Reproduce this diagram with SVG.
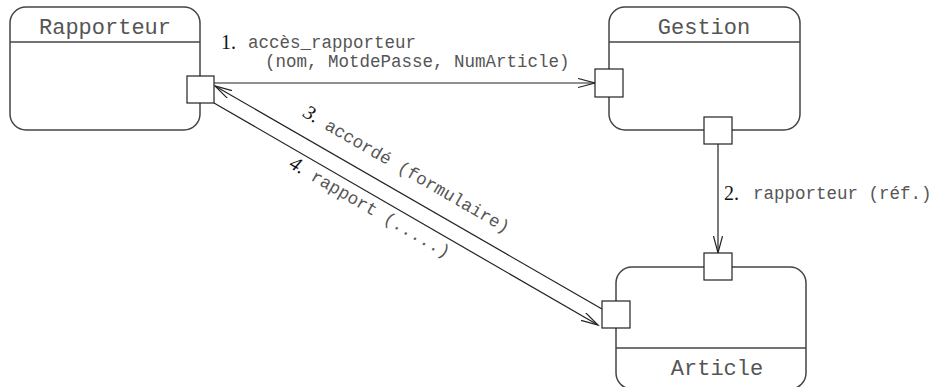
<svg xmlns="http://www.w3.org/2000/svg" width="935" height="387" viewBox="0 0 935 387">
<defs>
<style>
.box{fill:#fff;stroke:#444;stroke-width:1.5}
.div{stroke:#444;stroke-width:1.5}
.port{fill:#fff;stroke:#222;stroke-width:1.2}
.conn{stroke:#222;stroke-width:1.2;fill:none}
.title{font-family:"Liberation Mono",monospace;font-size:22px;fill:#555;text-anchor:middle}
.mono{font-family:"Liberation Mono",monospace;font-size:17.5px;fill:#555}
.num{font-family:"Liberation Serif",serif;font-size:20px;fill:#111}
.numi{font-family:"Liberation Serif",serif;font-size:20px;font-style:italic;fill:#111}
</style>
<marker id="arr" markerUnits="userSpaceOnUse" markerWidth="20" markerHeight="12" refX="17" refY="5" orient="auto">
<path d="M0,0.5 L17,5 L0,9.5" fill="none" stroke="#222" stroke-width="1.2"/>
</marker>
</defs>
<rect width="935" height="387" fill="#fff"/>
<g id="rapporteur">
<rect class="box" x="10" y="7" width="190" height="123" rx="16"/>
<line class="div" x1="10" y1="42" x2="200" y2="42"/>
<text class="title" x="105" y="34">Rapporteur</text>
</g>
<g id="gestion">
<rect class="box" x="609" y="7" width="191" height="123" rx="16"/>
<line class="div" x1="609" y1="42" x2="800" y2="42"/>
<text class="title" x="704" y="34">Gestion</text>
</g>
<g id="article">
<rect class="box" x="616" y="267" width="190" height="122" rx="16"/>
<line class="div" x1="616" y1="348" x2="806" y2="348"/>
<text class="title" x="717" y="375">Article</text>
</g>
<g id="connectors">
<line class="conn" x1="214" y1="83" x2="595" y2="83" marker-end="url(#arr)"/>
<line class="conn" x1="718" y1="144" x2="718" y2="253" stroke="#444" marker-end="url(#arr)"/>
<line class="conn" x1="602" y1="309" x2="215" y2="86" marker-end="url(#arr)"/>
<line class="conn" x1="214" y1="103" x2="598" y2="325" marker-end="url(#arr)"/>
</g>
<g id="ports">
<rect class="port" x="187" y="76" width="27" height="27"/>
<rect class="port" x="595" y="69" width="28" height="28"/>
<rect class="port" x="704" y="117" width="28" height="27"/>
<rect class="port" x="704" y="253" width="28" height="27"/>
<rect class="port" x="602" y="301" width="28" height="27"/>
</g>
<g id="labels">
<text class="num" x="221" y="49">1.</text>
<text class="mono" x="248" y="48">accès_rapporteur</text>
<text class="mono" x="265" y="67">(nom, MotdePasse, NumArticle)</text>
<text class="num" x="724" y="200">2.</text>
<text class="mono" x="753" y="199">rapporteur (réf.)</text>
<g transform="translate(302,116) rotate(30)">
<text class="numi" x="0" y="0">3.</text>
<text class="mono" x="25" y="0">accordé (formulaire)</text>
</g>
<g transform="translate(288,167) rotate(30)">
<text class="numi" x="0" y="0">4.</text>
<text class="mono" x="25" y="0">rapport (.....)</text>
</g>
</g>
</svg>
